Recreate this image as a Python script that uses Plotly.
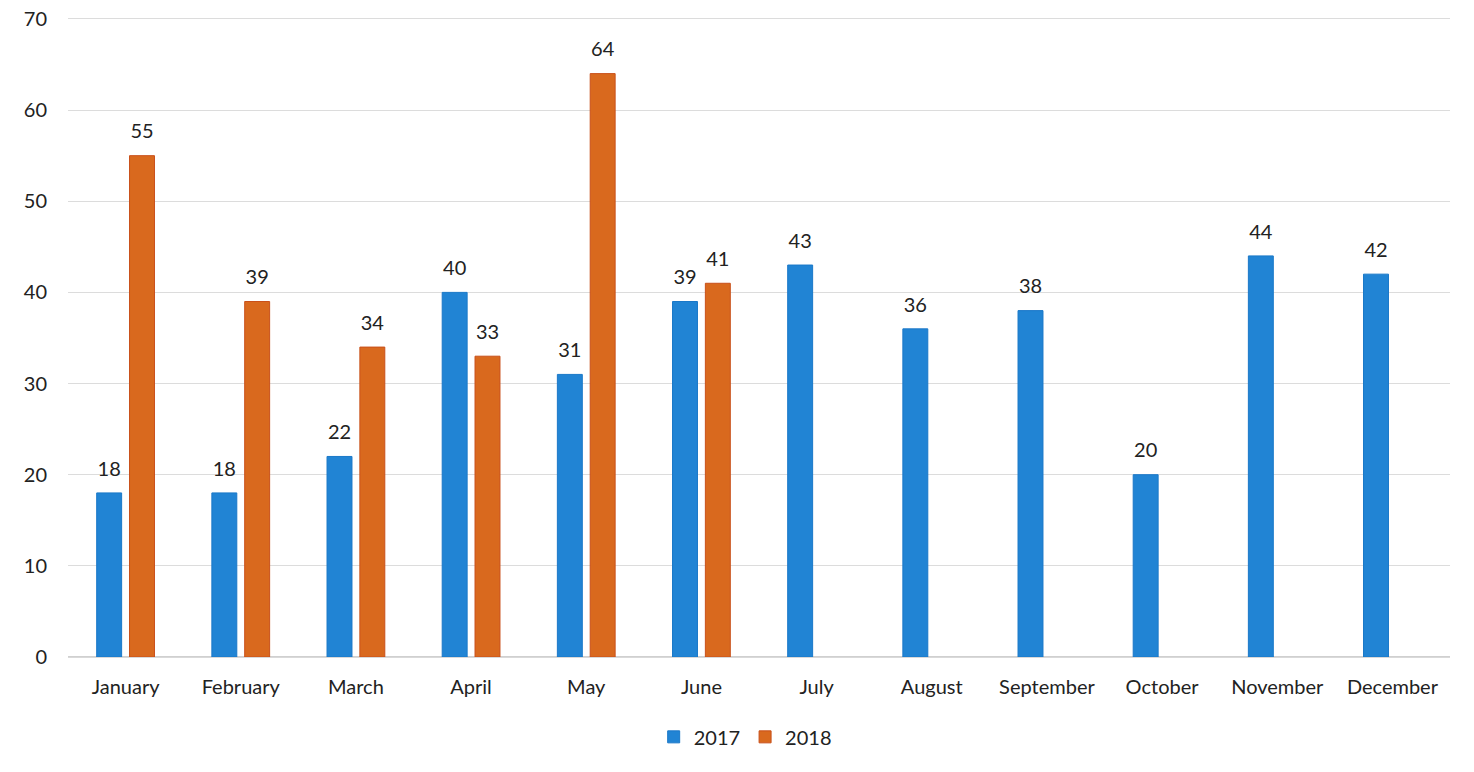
import plotly.graph_objects as go

months = ["January", "February", "March", "April", "May", "June",
          "July", "August", "September", "October", "November", "December"]
values_2017 = [18, 18, 22, 40, 31, 39, 43, 36, 38, 20, 44, 42]
values_2018 = [55, 39, 34, 33, 64, 41, None, None, None, None, None, None]
y_ticks = [0, 10, 20, 30, 40, 50, 60, 70]

font_family = "Lato, Open Sans, Noto Sans, sans-serif"
FS = 20

fig = go.Figure()
for name, vals, color, edge, grp in [
    ("2017", values_2017, "#2184d4", "#1a78c8", "a"),
    ("2018", values_2018, "#d9691e", "#c9501a", "b"),
]:
    fig.add_trace(go.Bar(
        name=name, x=months, y=vals, offsetgroup=grp, alignmentgroup="g",
        marker=dict(color=color, line=dict(color=edge, width=1)),
        hoverinfo="x+y",
    ))
for name, vals, grp in [("2017", values_2017, "a"), ("2018", values_2018, "b")]:
    fig.add_trace(go.Scatter(
        x=months, y=vals, mode="markers+text", offsetgroup=grp, alignmentgroup="g",
        text=[str(v) if v is not None else "" for v in vals],
        textposition="top center",
        textfont=dict(size=FS, color="#222222", family=font_family),
        marker=dict(size=18, opacity=0),
        showlegend=False, hoverinfo="skip", cliponaxis=False,
    ))

fig.update_layout(
    width=1474, height=772,
    barmode="group", bargap=0.43, bargroupgap=0.24,
    scattermode="group",
    plot_bgcolor="white", paper_bgcolor="white",
    margin=dict(l=68, r=24, t=13, b=115),
    font=dict(family=font_family, size=FS, color="#222222"),
    showlegend=True,
    legend=dict(orientation="h", x=0.49, xanchor="center", y=-0.124, yanchor="middle",
                font=dict(size=FS), traceorder="normal"),
    xaxis=dict(showgrid=False, showline=True, linecolor="#d9d9d9", ticks="",
               tickfont=dict(size=FS), ticklabelstandoff=12, automargin=False),
    yaxis=dict(range=[0, 70.65], tickvals=y_ticks, showgrid=True, gridcolor="#dcdcdc",
               zeroline=True, zerolinecolor="#d0d0d0", showline=False,
               tickfont=dict(size=FS), ticklabelstandoff=20, automargin=False,
               ticklabeloverflow="allow"),
)

fig.write_html("out.html", config={"displayModeBar": False},
               post_script="document.body.style.margin='0';")
